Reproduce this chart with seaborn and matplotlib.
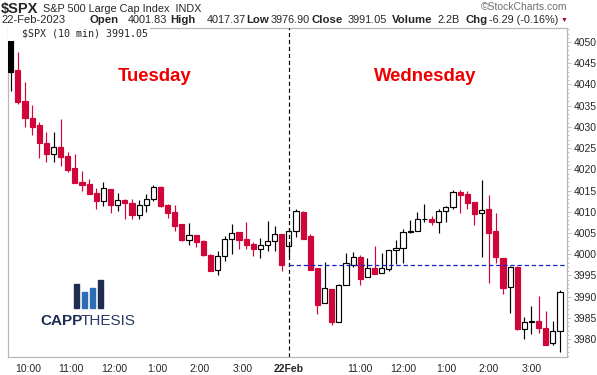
import matplotlib
matplotlib.use("Agg")
import matplotlib.pyplot as plt
import seaborn as sns
import pandas as pd
from matplotlib.patches import Rectangle

# 10-min SPX bars, Tue 21-Feb (bars 0-38) and Wed 22-Feb (bars 39-77)
opens = [4052.35, 4043.4, 4036.1, 4032.1, 4030.4, 4026.3, 4023.5, 4025.3, 4023.1, 4020.3,
         4017.0, 4016.5, 4014.4, 4012.6, 4015.4, 4011.7, 4012.8, 4012.1, 4009.3, 4011.7,
         4012.9, 4015.9, 4011.7, 4009.9, 4007.1, 4003.4, 4004.5, 4003.1, 3999.7, 3996.2,
         3999.5, 4003.5, 4005.2, 4003.5, 4002.4, 4001.1, 4002.1, 4003.0, 4004.7,
         4001.83, 4005.4, 4009.9, 4004.3, 3996.7, 3988.4, 3991.8, 3984.1, 3992.7, 3997.5,
         3999.3, 3994.5, 3996.7, 3995.5, 3996.6, 4000.9, 4001.4, 4005.2, 4005.4, 4008.2,
         4008.2, 4007.6, 4010.1, 4011.0, 4014.6, 4014.2, 4012.3, 4009.6, 4010.6, 4005.5,
         3999.1, 3992.2, 3997.0, 3982.4, 3984.0, 3984.2, 3982.6, 3979.0, 3982.0]
highs = [4052.35, 4047.7, 4040.6, 4035.1, 4031.1, 4028.8, 4028.8, 4031.9, 4024.1, 4023.6,
         4019.6, 4017.7, 4015.5, 4017.0, 4015.4, 4014.3, 4013.1, 4013.1, 4012.8, 4014.2,
         4016.3, 4016.0, 4011.9, 4011.6, 4007.1, 4007.3, 4004.5, 4003.3, 4000.0, 4000.7,
         4004.3, 4007.1, 4005.2, 4007.6, 4002.9, 4003.7, 4007.8, 4006.6, 4004.7,
         4006.2, 4010.6, 4010.1, 4004.7, 3996.7, 3998.1, 3991.8, 3993.0, 4000.3, 4000.5,
         3999.7, 3999.1, 4001.9, 4000.3, 4000.9, 4003.3, 4005.9, 4008.0, 4009.9, 4011.8,
         4008.9, 4010.6, 4011.3, 4015.1, 4015.1, 4014.9, 4012.3, 4017.37, 4013.9, 4009.6,
         3999.1, 3997.2, 3997.3, 3985.2, 3987.8, 3990.1, 3986.6, 3984.2, 3991.5]
lows = [4038.5, 4035.3, 4030.0, 4028.1, 4022.7, 4021.8, 4021.8, 4020.8, 4019.4, 4016.8,
        4014.9, 4014.2, 4010.7, 4011.4, 4009.8, 4010.2, 4008.2, 4008.2, 4008.2, 4010.0,
        4012.6, 4011.2, 4008.6, 4005.5, 4003.2, 4002.2, 4001.8, 3999.6, 3996.1, 3995.2,
        3998.5, 4000.1, 4001.2, 4001.2, 3999.6, 3999.2, 4000.8, 4000.8, 3996.1,
        3999.3, 4004.1, 4003.6, 3996.3, 3985.9, 3988.4, 3983.4, 3984.1, 3992.7, 3997.0,
        3992.8, 3994.5, 3995.4, 3995.5, 3996.1, 3997.7, 3998.0, 4004.9, 4005.4, 4007.6,
        4006.9, 4005.1, 4007.6, 4010.6, 4009.8, 4010.7, 4006.9, 3999.4, 3993.3, 3997.8,
        3990.5, 3986.2, 3982.2, 3980.1, 3981.1, 3981.3, 3978.7, 3978.7, 3976.9]
closes = [4043.0, 4035.9, 4032.2, 4030.0, 4026.3, 4023.7, 4025.2, 4023.0, 4019.8, 4016.8,
          4016.4, 4014.2, 4012.6, 4015.5, 4011.7, 4012.7, 4012.0, 4009.3, 4011.7, 4012.9,
          4015.8, 4011.4, 4009.8, 4006.7, 4003.4, 4004.4, 4002.9, 3999.7, 3996.1, 3999.5,
          4003.5, 4005.1, 4003.4, 4002.2, 4001.2, 4002.1, 4003.0, 4004.7, 3997.34,
          4005.4, 4010.1, 4003.6, 3996.3, 3988.1, 3992.0, 3984.1, 3992.7, 3997.8, 3999.3,
          3994.2, 3996.7, 3995.4, 3996.7, 4000.9, 4001.4, 4005.2, 4005.4, 4008.2, 4008.3,
          4007.6, 4010.1, 4011.1, 4014.6, 4014.0, 4012.1, 4009.5, 4010.3, 4005.1, 3999.4,
          3992.1, 3997.0, 3982.4, 3984.1, 3984.2, 3982.7, 3978.7, 3982.0, 3991.05]

prev_close = 3997.34
wed_start = 39
y_ticks = list(range(3980, 4051, 5))
x_tick_pos = [2.5, 8.5, 14.5, 20.5, 26.5, 32.5, 39, 49, 55, 61, 67, 73]
x_tick_labels = ["10:00", "11:00", "12:00", "1:00", "2:00", "3:00", "22Feb",
                 "11:00", "12:00", "1:00", "2:00", "3:00"]

df = pd.DataFrame({"open": opens, "high": highs, "low": lows, "close": closes})
df["bar"] = range(len(df))
df["up_day"] = df["close"] >= df["close"].shift(1).fillna(0)

RED = "#D0063A"
GRAY = "#B8B8B8"

sns.set_theme(style="white")
plt.rcParams["font.family"] = ["Liberation Sans", "DejaVu Sans"]

W, H = 597, 375
fig = plt.figure(figsize=(W / 100, H / 100), dpi=100)
ax = fig.add_axes([8 / W, 1 - 357 / H, (567 - 8) / W, (357 - 28) / H])

edge = ["black" if u else RED for u in df["up_day"]]
face = ["white" if c > o else e for o, c, e in zip(df["open"], df["close"], edge)]
bottom = df[["open", "close"]].min(axis=1)
height = (df["close"] - df["open"]).abs().clip(lower=0.05)

ax.vlines(df["bar"], df["low"], df["high"], colors=edge, linewidth=0.85, zorder=2)
ax.bar(df["bar"], height, bottom=bottom, width=0.72, color=face,
       edgecolor=[e if f == "white" else f for e, f in zip(edge, face)],
       linewidth=0.85, zorder=3)

ax.axvline(wed_start, color="black", linewidth=0.85, linestyle=(0, (3.5, 2.4)), zorder=4)
ax.hlines(prev_close, wed_start, len(df) + 2, color="#1420C8", linewidth=0.9,
          linestyle=(0, (3.5, 2.2)), zorder=4)

ax.set_xlim(-0.38, 77.98)
ax.set_ylim(3975.76, 4053.3)

ax.yaxis.tick_right()
ax.set_yticks(y_ticks)
ax.set_yticklabels([str(v) for v in y_ticks], fontsize=7.5)
ax.set_yticks([v for v in range(3976, 4054)], minor=True)
ax.set_xticks(x_tick_pos)
ax.set_xticklabels(x_tick_labels, fontsize=7.5)
ax.get_xticklabels()[6].set_fontweight("bold")
ax.set_xticks(list(range(len(df))), minor=True)
ax.tick_params(axis="y", which="major", length=3, width=0.6, color=GRAY, pad=2)
ax.tick_params(axis="y", which="minor", length=1.5, width=0.6, color=GRAY)
ax.tick_params(axis="x", which="major", length=3, width=0.6, color=GRAY, pad=2)
ax.tick_params(axis="x", which="minor", length=1.5, width=0.6, color=GRAY)
for s in ax.spines.values():
    s.set_color(GRAY)
    s.set_linewidth(0.9)

# day labels
ax.text(20.2, 4041.8, "Tuesday", color="#EE0000", fontsize=13.3, fontweight="bold",
        ha="center", va="center")
ax.text(58.1, 4041.8, "Wednesday", color="#EE0000", fontsize=13.3, fontweight="bold",
        ha="center", va="center")

# in-chart legend
ax.text(-0.1, 4052.0, "  $SPX (10 min) 3991.05", family="DejaVu Sans Mono", fontsize=7.2,
        ha="left", va="center", zorder=6,
        bbox=dict(facecolor="white", edgecolor="none", pad=1.6))

# header
def ftxt(x, y, s, **kw):
    fig.text(x / W, 1 - y / H, s, va="center", ha="left", **kw)

ftxt(1, 8.5, "$SPX", fontsize=10.5, fontweight="bold")
ftxt(43, 8.5, "S&P 500 Large Cap Index  INDX", fontsize=7.8)
ftxt(1, 20, "22-Feb-2023", fontsize=8)
hdr = [(90, "Open", True), (128, "4001.83", False), (170, "High", True), (207, "4017.37", False),
       (246, "Low", True), (271, "3976.90", False), (312, "Close", True), (348, "3991.05", False),
       (392, "Volume", True), (437, "2.2B", False), (465, "Chg", True), (489, "-6.29 (-0.16%)", False)]
for x, s, b in hdr:
    ftxt(x, 20, s, fontsize=8.2 if b else 7.8, fontweight="bold" if b else "normal")
ftxt(561, 20, "\u25BC", fontsize=5, color="#A0002A")
fig.text(567 / W, 1 - 6.5 / H, "\u00A9StockCharts.com", va="center", ha="right",
         fontsize=7.5, color="#707070")

# CAPPTHESIS logo
for (x0, y0, w, h, c) in [(74, 284, 5, 24, "#1F2D52"), (82, 292, 5, 16, "#2E6DB4"),
                          (90, 288, 5, 20, "#2E6DB4"), (98, 280, 5, 28, "#1F2D52")]:
    fig.patches.append(Rectangle((x0 / W, 1 - (y0 + h) / H), w / W, h / H,
                                 transform=fig.transFigure, color=c))
fig.text(40 / W, 1 - 321 / H, "CAPP", fontsize=11, fontweight="bold", color="#1F2D52",
         va="center", ha="left")
fig.text(81 / W, 1 - 321 / H, "THESIS", fontsize=11, color="#2A3A60",
         va="center", ha="left")

fig.savefig("out.png", dpi=100, facecolor="white")
